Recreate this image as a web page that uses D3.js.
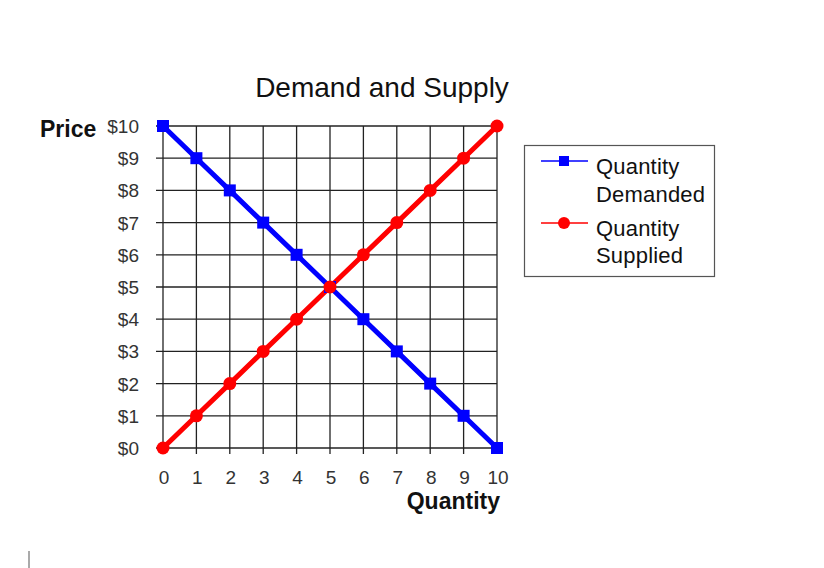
<!DOCTYPE html>
<html>
<head>
<meta charset="utf-8">
<script src="https://cdn.jsdelivr.net/npm/d3@7"></script>
<style>
  body { margin: 0; background: #fff; }
  svg { display: block; font-family: Arial, "Liberation Sans", sans-serif; }
</style>
</head>
<body>
<svg id="viz"></svg>
<script>
// --- Data ---
const quantities = [0, 1, 2, 3, 4, 5, 6, 7, 8, 9, 10];
const demandPrice = [10, 9, 8, 7, 6, 5, 4, 3, 2, 1, 0];
const supplyPrice = [0, 1, 2, 3, 4, 5, 6, 7, 8, 9, 10];
const priceTicks = [0, 1, 2, 3, 4, 5, 6, 7, 8, 9, 10];
const seriesNames = ["Quantity Demanded", "Quantity Supplied"];

const width = 824, height = 568;
const margin = { left: 163, right: 327, top: 126, bottom: 120 };

const svg = d3.select("#viz")
  .attr("width", width)
  .attr("height", height);

svg.append("rect").attr("width", width).attr("height", height).attr("fill", "#fff");

const x = d3.scaleLinear().domain([0, 10]).range([margin.left, width - margin.right]);
const y = d3.scaleLinear().domain([0, 10]).range([height - margin.bottom, margin.top]);

// --- Title ---
svg.append("text")
  .attr("x", 382).attr("y", 97)
  .attr("text-anchor", "middle")
  .attr("font-size", 28)
  .attr("fill", "#111")
  .text("Demand and Supply");

// --- Grid ---
const grid = svg.append("g").attr("stroke", "#222").attr("stroke-width", 1.3);
grid.selectAll("line.h")
  .data(priceTicks)
  .join("line")
  .attr("class", "h")
  .attr("x1", x(0) - 7).attr("x2", x(10))
  .attr("y1", d => y(d)).attr("y2", d => y(d));
grid.selectAll("line.v")
  .data(quantities)
  .join("line")
  .attr("class", "v")
  .attr("x1", d => x(d)).attr("x2", d => x(d))
  .attr("y1", y(10)).attr("y2", y(0) + 6);

// --- Tick labels ---
svg.append("g")
  .selectAll("text")
  .data(priceTicks)
  .join("text")
  .attr("x", x(0) - 24)
  .attr("y", d => y(d) + 7)
  .attr("text-anchor", "end")
  .attr("font-size", 19)
  .attr("fill", "#333")
  .text(d => "$" + d);

svg.append("g")
  .selectAll("text")
  .data(quantities)
  .join("text")
  .attr("x", d => x(d) + 1)
  .attr("y", y(0) + 36)
  .attr("text-anchor", "middle")
  .attr("font-size", 19)
  .attr("fill", "#333")
  .text(d => d);

// --- Axis titles ---
svg.append("text")
  .attr("x", 40).attr("y", 137)
  .attr("font-size", 23).attr("font-weight", "bold")
  .attr("fill", "#111")
  .text("Price");

svg.append("text")
  .attr("x", 500).attr("y", 509)
  .attr("text-anchor", "end")
  .attr("font-size", 23).attr("font-weight", "bold")
  .attr("fill", "#111")
  .text("Quantity");

// --- Lines ---
const line = d3.line()
  .x((d, i) => x(quantities[i]))
  .y(d => y(d));

svg.append("path")
  .attr("d", line(demandPrice))
  .attr("fill", "none")
  .attr("stroke", "#0000ff")
  .attr("stroke-width", 5);

svg.append("path")
  .attr("d", line(supplyPrice))
  .attr("fill", "none")
  .attr("stroke", "#ff0000")
  .attr("stroke-width", 5);

svg.append("g")
  .selectAll("rect")
  .data(demandPrice)
  .join("rect")
  .attr("x", (d, i) => x(quantities[i]) - 6)
  .attr("y", d => y(d) - 6)
  .attr("width", 12).attr("height", 12)
  .attr("fill", "#0000ff");

svg.append("g")
  .selectAll("circle")
  .data(supplyPrice)
  .join("circle")
  .attr("cx", (d, i) => x(quantities[i]))
  .attr("cy", d => y(d))
  .attr("r", 6.5)
  .attr("fill", "#ff0000");

// --- Legend ---
const legend = svg.append("g");
legend.append("rect")
  .attr("x", 524.5).attr("y", 145.5)
  .attr("width", 190).attr("height", 131)
  .attr("fill", "#fff")
  .attr("stroke", "#555")
  .attr("stroke-width", 1.2);

const legendRows = [
  { name: seriesNames[0], color: "#0000ff", shape: "square", ly: 161, lines: [174, 202] },
  { name: seriesNames[1], color: "#ff0000", shape: "circle", ly: 223, lines: [236, 263] }
];

legendRows.forEach(r => {
  legend.append("line")
    .attr("x1", 541).attr("x2", 588)
    .attr("y1", r.ly).attr("y2", r.ly)
    .attr("stroke", r.color).attr("stroke-width", 1.5);
  if (r.shape === "square") {
    legend.append("rect")
      .attr("x", 559).attr("y", r.ly - 5)
      .attr("width", 10).attr("height", 10)
      .attr("fill", r.color);
  } else {
    legend.append("circle")
      .attr("cx", 564).attr("cy", r.ly).attr("r", 6)
      .attr("fill", r.color);
  }
  const words = r.name.split(" ");
  words.forEach((w, i) => {
    legend.append("text")
      .attr("x", 596).attr("y", r.lines[i])
      .attr("font-size", 22)
      .attr("letter-spacing", 0.2)
      .attr("fill", "#111")
      .text(w);
  });
});

// small caret mark at bottom left
svg.append("rect")
  .attr("x", 28).attr("y", 551)
  .attr("width", 2).attr("height", 17)
  .attr("fill", "#aaa");
</script>
</body>
</html>
